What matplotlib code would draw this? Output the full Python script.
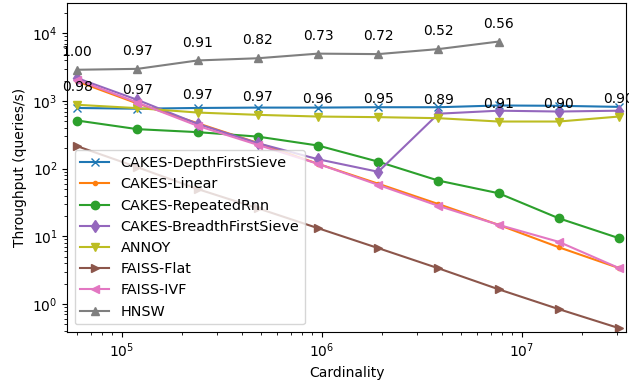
from matplotlib import pyplot as plt

# cardinalities (60000 * 2^k)
cardinality = [60000, 120000, 240000, 480000, 960000, 1920000,
               3840000, 7680000, 15360000, 30720000]

dfs = [790, 770, 790, 800, 800, 810, 810, 860, 850, 820]
linear = [1950, 920, 470, 240, 118, 60, 30, 14.8, 6.9, 3.4]
rnn = [515, 384, 347, 298, 220, 127, 66.7, 43.4, 18.5, 9.4]
bfs = [2180, 1040, 460, 238, 138, 90, 650, 720, 700, 720]
annoy = [880, 785, 676, 625, 590, 578, 558, 498, 498, 590]
annoy_recall = ['0.98', '0.97', '0.97', '0.97', '0.96', '0.95',
                '0.89', '0.91', '0.90', '0.90']
faiss_flat = [215, 105, 50, 26, 13.2, 6.7, 3.37, 1.65, 0.84, 0.44]
faiss_ivf = [2060, 950, 430, 225, 118, 57.6, 28.2, 14.8, 8.3, 3.4]
hnsw = [2900, 2990, 3980, 4290, 5020, 4940, 5860, 7570]
hnsw_recall = ['1.00', '0.97', '0.91', '0.82', '0.73', '0.72', '0.52', '0.56']

fig = plt.figure(figsize=(6.29, 3.83), dpi=100)
ax = fig.add_axes([0.107, 0.134, 0.889, 0.857])

ax.plot(cardinality, dfs, marker='x', color='tab:blue', label='CAKES-DepthFirstSieve')
ax.plot(cardinality, linear, marker='.', color='tab:orange', label='CAKES-Linear')
ax.plot(cardinality, rnn, marker='o', color='tab:green', label='CAKES-RepeatedRnn')
ax.plot(cardinality, bfs, marker='d', color='tab:purple', label='CAKES-BreadthFirstSieve')
ax.plot(cardinality, annoy, marker='v', color='tab:olive', label='ANNOY')
ax.plot(cardinality, faiss_flat, marker='>', color='tab:brown', label='FAISS-Flat')
ax.plot(cardinality, faiss_ivf, marker='<', color='tab:pink', label='FAISS-IVF')
ax.plot(cardinality[:len(hnsw)], hnsw, marker='^', color='tab:gray', label='HNSW')

# recall labels above the points
for x, y, r in zip(cardinality, annoy, annoy_recall):
    ax.annotate(r, (x, y), textcoords='offset points', xytext=(0, 10), ha='center')
for x, y, r in zip(cardinality, hnsw, hnsw_recall):
    ax.annotate(r, (x, y), textcoords='offset points', xytext=(0, 10), ha='center')

ax.set_xscale('log')
ax.set_yscale('log')
ax.set_xlim(53500, 33.5e6)
ax.set_ylim(0.39, 27700)
ax.set_xlabel('Cardinality')
ax.set_ylabel('Throughput (queries/s)')
ax.legend(loc='lower left', fontsize=10.4)

fig.savefig('out.png', dpi=100)
